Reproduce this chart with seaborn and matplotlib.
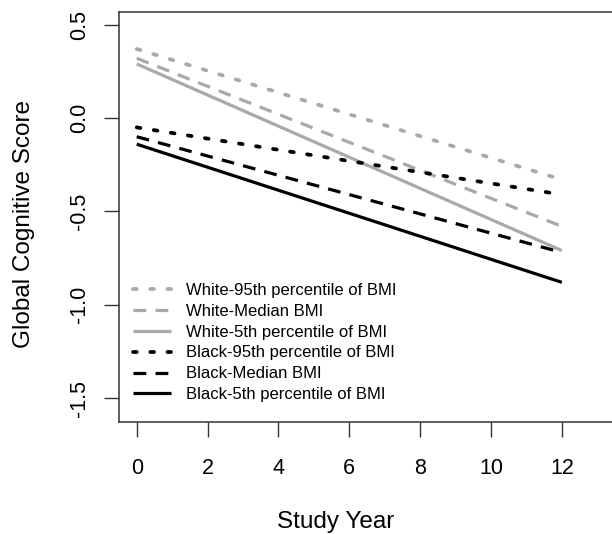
import matplotlib
matplotlib.use("Agg")
import matplotlib.pyplot as plt
import seaborn as sns
import pandas as pd

# Data: values at study year 0 and 12
years = [0, 12]
series = [
    "White-95th percentile of BMI",
    "White-Median BMI",
    "White-5th percentile of BMI",
    "Black-95th percentile of BMI",
    "Black-Median BMI",
    "Black-5th percentile of BMI",
]
white_95 = [0.37, -0.33]
white_med = [0.32, -0.58]
white_5 = [0.29, -0.71]
black_95 = [-0.05, -0.41]
black_med = [-0.10, -0.72]
black_5 = [-0.14, -0.88]
values = [white_95, white_med, white_5, black_95, black_med, black_5]

x_ticks = [0, 2, 4, 6, 8, 10, 12]
y_ticks = [0.5, 0.0, -0.5, -1.0, -1.5]

rows = []
for name, vals in zip(series, values):
    for yr, v in zip(years, vals):
        rows.append({"year": yr, "score": v, "series": name})
df = pd.DataFrame(rows)

sns.set_style("white")
plt.rcParams["font.family"] = ["Liberation Sans", "DejaVu Sans"]
plt.rcParams["text.color"] = "black"
plt.rcParams["axes.labelcolor"] = "black"

grey = "#A9A9A9"
palette = {series[0]: grey, series[1]: grey, series[2]: grey,
           series[3]: "black", series[4]: "black", series[5]: "black"}
dot = (0.9, 4.4)
dash = (4.0, 2.9)
dashes = {series[0]: dot, series[1]: dash, series[2]: "",
          series[3]: dot, series[4]: dash, series[5]: ""}

fig = plt.figure(figsize=(6.12, 5.34), dpi=100)
ax = fig.add_axes([119 / 612, 112 / 534, 496 / 612, 410 / 534])

sns.lineplot(data=df, x="year", y="score", hue="series", style="series",
             palette=palette, dashes=dashes, hue_order=series, style_order=series,
             linewidth=2.3, ax=ax, legend=True)


def fix(lines):
    for ln, name in zip(lines, series):
        d = dashes[name]
        if d == dot:
            ln.set_linewidth(2.7)
            ln.set_linestyle((0, (1.0, 3.6)))
            ln.set_dash_capstyle("round")
        elif d == dash:
            ln.set_dash_capstyle("butt")
        ln.set_solid_capstyle("butt")


fix(ax.get_lines()[:len(series)])

ax.set_xlim(-0.5, 13.5)
ax.set_ylim(-1.628, 0.568)
ax.set_xticks(x_ticks)
ax.set_xticklabels([str(t) for t in x_ticks])
ax.set_yticks(y_ticks)
ax.set_yticklabels(["0.5", "0.0", "-0.5", "-1.0", "-1.5"], rotation=90, va="center")

ax.tick_params(axis="both", which="major", bottom=True, left=True,
               direction="out", length=11, width=1.0,
               color="#333333", labelsize=15.5, labelcolor="black")
ax.tick_params(axis="x", pad=15)
ax.tick_params(axis="y", pad=10)
for sp in ax.spines.values():
    sp.set_visible(True)
    sp.set_color("#333333")
    sp.set_linewidth(1.1)

ax.set_xlabel("Study Year", fontsize=17.5)
ax.set_ylabel("Global Cognitive Score", fontsize=17.5)
ax.xaxis.set_label_coords((336 - 119) / 496, (422 - 522) / 410)
ax.xaxis.label.set_va("center")
ax.yaxis.set_label_coords((24 - 119) / 496, (422 - 224) / 410)
ax.yaxis.label.set_va("center")

handles, labels = ax.get_legend_handles_labels()
leg = ax.legend(handles, labels, loc="upper left",
                bbox_to_anchor=((133 - 119) / 496, (422 - 283) / 410),
                frameon=False, fontsize=12, handlelength=2.3,
                handletextpad=0.9, labelspacing=0.35, borderpad=0,
                borderaxespad=0)
for h in leg.get_lines():
    h.set_linewidth(2.3)
fix(leg.get_lines())

fig.savefig("out.png", dpi=100)
